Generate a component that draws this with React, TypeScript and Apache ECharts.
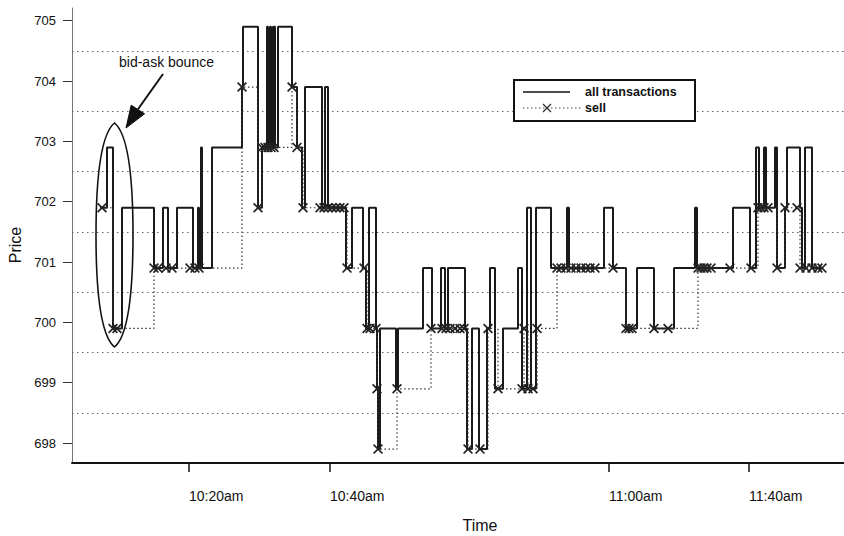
import React, { useEffect, useRef } from "react";
import * as echarts from "echarts";

// Price ticks and dotted half-unit grid levels
const priceTicks = [698, 699, 700, 701, 702, 703, 704, 705];
const gridLevels = [698.5, 699.5, 700.5, 701.5, 702.5, 703.5, 704.5];

// Time axis (trade-time index) tick positions and labels
const timeTickPos = [117, 258, 537, 677];
const timeTickLabels = ["10:20am", "10:40am", "11:00am", "11:40am"];

// All transactions: [time index, price] (price held until next trade)
const allTransactions: [number, number][] = [
  [28, 701.9], [35, 702.9], [41, 699.9], [50, 701.9], [82, 700.9], [91, 701.9],
  [96, 700.9], [105, 701.9], [121, 700.9], [126, 701.9], [127, 700.9], [129, 702.9],
  [130, 700.9], [140, 702.9], [170, 703.9], [171, 704.9], [186, 701.9], [190, 702.9],
  [195, 704.9], [196, 702.9], [198, 704.9], [199, 702.9], [201, 704.9], [203, 702.9],
  [206, 704.9], [220, 703.9], [225, 702.9], [230, 701.9], [233, 703.9], [250, 701.9],
  [253, 703.9], [256, 701.9], [274, 700.9], [280, 701.9], [291, 700.9], [294, 699.9],
  [297, 701.9], [304, 699.9], [305, 698.9], [306, 697.9], [308, 699.9], [324, 698.9],
  [326, 699.9], [351, 700.9], [360, 699.9], [369, 700.9], [373, 699.9], [376, 700.9],
  [393, 699.9], [395, 697.9], [400, 699.9], [407, 697.9], [415, 699.9], [418, 700.9],
  [423, 698.9], [431, 699.9], [446, 700.9], [450, 698.9], [455, 701.9], [459, 698.9],
  [464, 701.9], [479, 700.9], [495, 701.9], [497, 700.9], [532, 701.9], [541, 700.9],
  [554, 699.9], [565, 700.9], [582, 699.9], [602, 700.9], [623, 701.9], [625, 700.9],
  [661, 701.9], [678, 700.9], [684, 702.9], [687, 701.9], [692, 702.9], [694, 701.9],
  [703, 702.9], [705, 700.9], [713, 701.9], [715, 702.9], [728, 701.9], [730, 700.9],
  [733, 702.9], [740, 700.9], [750, 700.9],
];

// Sell transactions: [time index, price]
const sellTransactions: [number, number][] = [
  [30, 701.9], [41, 699.9], [45, 699.9],
  [82, 700.9], [86, 700.9], [94, 700.9], [100, 700.9], [118, 700.9], [123, 700.9], [127, 700.9],
  [170, 703.9], [186, 701.9],
  [190, 702.9], [193, 702.9], [196, 702.9], [199, 702.9], [202, 702.9],
  [220, 703.9], [225, 702.9],
  [231, 701.9], [248, 701.9], [252, 701.9], [256, 701.9], [260, 701.9], [264, 701.9], [268, 701.9], [272, 701.9],
  [275, 700.9], [292, 700.9],
  [295, 699.9], [298, 699.9], [304, 699.9], [305, 698.9], [306, 697.9],
  [325, 698.9],
  [359, 699.9], [370, 699.9], [374, 699.9], [378, 699.9], [383, 699.9], [388, 699.9], [392, 699.9],
  [396, 697.9], [408, 697.9], [416, 699.9], [426, 698.9],
  [450, 698.9], [452, 699.9], [456, 698.9], [461, 698.9], [465, 699.9],
  [485, 700.9], [489, 700.9], [494, 700.9], [499, 700.9], [504, 700.9], [509, 700.9], [514, 700.9], [518, 700.9], [523, 700.9],
  [541, 700.9],
  [554, 699.9], [557, 699.9], [560, 699.9], [582, 699.9], [596, 699.9],
  [626, 700.9], [629, 700.9], [632, 700.9], [635, 700.9], [639, 700.9], [658, 700.9], [679, 700.9],
  [686, 701.9], [689, 701.9], [692, 701.9], [696, 701.9],
  [705, 700.9], [713, 701.9], [725, 701.9],
  [728, 700.9], [734, 700.9], [740, 700.9], [746, 700.9], [750, 700.9],
];

const FONT = "Liberation Sans, Arial, Helvetica, sans-serif";
const X_SYMBOL =
  "path://M0,1.2L1.2,0L5,3.8L8.8,0L10,1.2L6.2,5L10,8.8L8.8,10L5,6.2L1.2,10L0,8.8L3.8,5Z";

// Pointed oval used for the "bid-ask bounce" annotation
echarts.graphic.registerShape(
  "lensOval",
  echarts.graphic.extendPath(
    "M114.5,123 C101,134 96,180 96,235 C96,290 101,336 114.5,347 C128,336 133,290 133,235 C133,180 128,134 114.5,123 Z",
    {}
  )
);

export default function App() {
  const ref = useRef<HTMLDivElement>(null);

  useEffect(() => {
    if (!ref.current) return;
    const chart = echarts.init(ref.current, undefined, { renderer: "svg" });
    chart.setOption({
      animation: false,
      backgroundColor: "#ffffff",
      grid: { left: 72, right: 0, top: 8, bottom: 73, containLabel: false },
      xAxis: {
        type: "value",
        min: 0,
        max: 772,
        axisLine: { show: true, onZero: false, lineStyle: { color: "#111", width: 2 } },
        axisTick: {
          show: true,
          length: 9,
          customValues: timeTickPos,
          lineStyle: { color: "#111", width: 1.5 },
        },
        axisLabel: {
          show: true,
          customValues: timeTickPos,
          formatter: (v: number) => {
            const i = timeTickPos.indexOf(v);
            return i >= 0 ? timeTickLabels[i] : "";
          },
          align: "left",
          margin: 26,
          fontFamily: FONT,
          fontSize: 14,
          color: "#111",
        },
        splitLine: { show: false },
      },
      yAxis: {
        type: "value",
        min: 697.67,
        max: 705.21,
        axisLine: { show: true, lineStyle: { color: "#777", width: 1 } },
        axisTick: {
          show: true,
          length: 9,
          customValues: priceTicks,
          lineStyle: { color: "#333", width: 1 },
        },
        axisLabel: {
          show: true,
          customValues: priceTicks,
          formatter: (v: number) => String(Math.round(v)),
          margin: 16,
          fontFamily: FONT,
          fontSize: 13,
          color: "#111",
        },
        splitLine: { show: false },
      },
      series: [
        {
          name: "all transactions",
          type: "line",
          step: "end",
          data: allTransactions,
          showSymbol: false,
          lineStyle: { color: "#1a1a1a", width: 2 },
          z: 3,
          markLine: {
            silent: true,
            symbol: ["none", "none"],
            label: { show: false },
            lineStyle: { type: [1.5, 3.5], color: "#666", width: 1 },
            data: gridLevels.map((v) => ({ yAxis: v })),
            z: 1,
          },
        },
        {
          name: "sell",
          type: "line",
          step: "end",
          data: sellTransactions,
          showSymbol: true,
          showAllSymbol: true,
          symbol: X_SYMBOL,
          symbolSize: 10,
          itemStyle: { color: "#222" },
          lineStyle: { color: "#333", width: 1.2, type: [1.5, 2.5] },
          z: 4,
        },
      ],
      graphic: [
        // Legend box
        {
          type: "rect",
          shape: { x: 514, y: 80, width: 181, height: 41 },
          style: { fill: "#fff", stroke: "#111", lineWidth: 2 },
          z: 10,
        },
        {
          type: "line",
          shape: { x1: 523, y1: 92, x2: 570, y2: 92 },
          style: { stroke: "#111", lineWidth: 1.3 },
          z: 11,
        },
        {
          type: "text",
          x: 585,
          y: 92,
          style: {
            text: "all transactions",
            font: `bold 12.5px ${FONT}`,
            fill: "#111",
            verticalAlign: "middle",
          },
          z: 11,
        },
        {
          type: "line",
          shape: { x1: 523, y1: 108, x2: 583, y2: 108 },
          style: { stroke: "#444", lineWidth: 1, lineDash: [1.5, 2.5] },
          z: 11,
        },
        {
          type: "line",
          shape: { x1: 543, y1: 104, x2: 551, y2: 112 },
          style: { stroke: "#333", lineWidth: 1.2 },
          z: 11,
        },
        {
          type: "line",
          shape: { x1: 551, y1: 104, x2: 543, y2: 112 },
          style: { stroke: "#333", lineWidth: 1.2 },
          z: 11,
        },
        {
          type: "text",
          x: 585,
          y: 108,
          style: {
            text: "sell",
            font: `bold 12.5px ${FONT}`,
            fill: "#111",
            verticalAlign: "middle",
          },
          z: 11,
        },
        // Annotation
        {
          type: "text",
          x: 119,
          y: 62,
          style: {
            text: "bid-ask bounce",
            font: `14px ${FONT}`,
            fill: "#111",
            verticalAlign: "middle",
          },
          z: 11,
        },
        {
          type: "line",
          shape: { x1: 163, y1: 74, x2: 136, y2: 112 },
          style: { stroke: "#111", lineWidth: 2 },
          z: 11,
        },
        {
          type: "polygon",
          shape: { points: [[126, 128], [144.6, 113.8], [131.2, 105.2]] },
          style: { fill: "#111", stroke: "#111", lineWidth: 1 },
          z: 11,
        },
        {
          type: "lensOval",
          x: 0,
          y: 0,
          scaleX: 1,
          scaleY: 1,
          style: { fill: "none", stroke: "#111", lineWidth: 1.6 },
          z: 11,
        },
        // Axis titles
        {
          type: "text",
          x: 15,
          y: 245,
          rotation: Math.PI / 2,
          style: {
            text: "Price",
            font: `16px ${FONT}`,
            fill: "#111",
            align: "center",
            verticalAlign: "middle",
          },
          z: 11,
        },
        {
          type: "text",
          x: 480,
          y: 525,
          style: {
            text: "Time",
            font: `16px ${FONT}`,
            fill: "#111",
            align: "center",
            verticalAlign: "middle",
          },
          z: 11,
        },
      ],
    });
    return () => chart.dispose();
  }, []);

  return (
    <div
      ref={ref}
      style={{ position: "fixed", left: 0, top: 0, width: 844, height: 536, background: "#fff" }}
    />
  );
}
